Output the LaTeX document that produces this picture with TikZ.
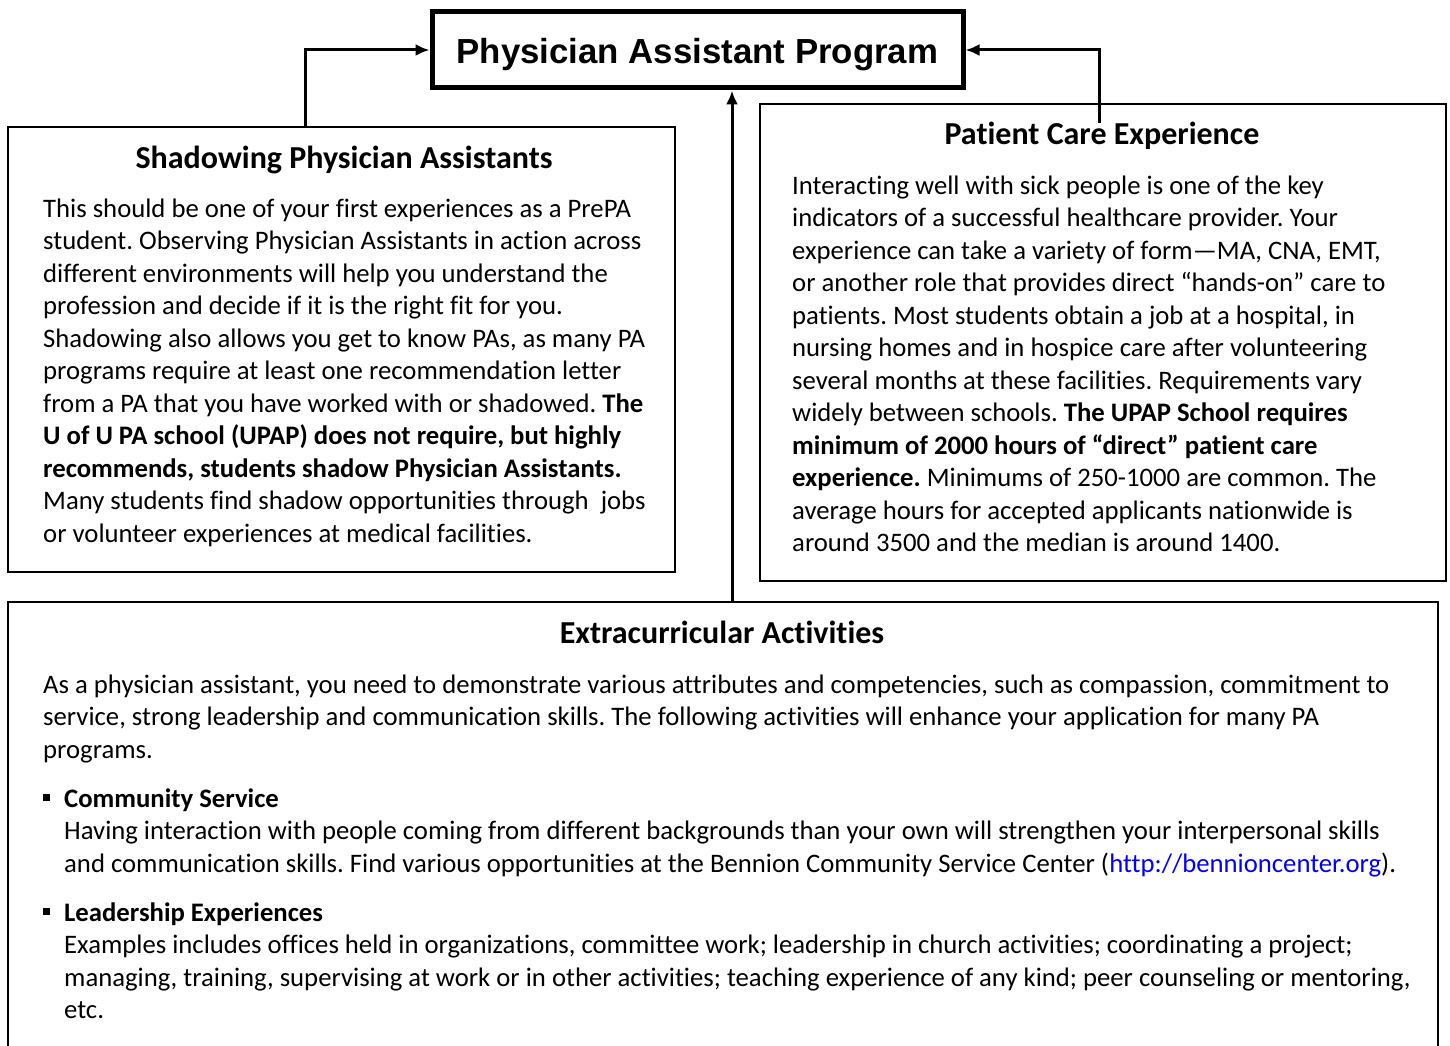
\documentclass[tikz,border=0pt]{standalone}
\usepackage{fontspec}
\setmainfont{Carlito}[Ligatures=NoCommon]
\newfontfamily\arialfont{Liberation Sans}
\usetikzlibrary{arrows.meta}
\definecolor{linkblue}{RGB}{0,0,255}
\newcommand{\mystrut}{\rule{0pt}{24pt}}
\newcommand{\sqbullet}{\llap{\rule[6pt]{7pt}{7pt}\hspace{14pt}}}
\frenchspacing
\begin{document}
\begin{tikzpicture}[x=1pt,y=-1pt,
  box/.style={draw,line width=2pt,anchor=north west,inner sep=0pt},
  boxtitle/.style={anchor=base,inner sep=0pt,font=\fontsize{32}{38}\selectfont\bfseries},
  body/.style={anchor=north west,inner sep=0pt,align=left,font=\fontsize{26.7}{32.5}\selectfont},
  arr/.style={line width=3pt,-{Latex[length=14pt,width=12pt]}}
]
\path[use as bounding box] (0,0) rectangle (1450,1046);
\clip (0,0) rectangle (1450,1046);

% main title box
\node[draw,line width=5pt,minimum width=531pt,minimum height=76pt,inner sep=0pt,
      text height=28pt,text depth=0pt,
      font=\arialfont\fontsize{34.8}{40}\selectfont\bfseries] (pa) at (697.5,50) {Physician Assistant Program};

% boxes
\node[box,minimum width=667pt,minimum height=445pt] (shbox) at (7,126) {};
\node[box,minimum width=686pt,minimum height=477pt] (pcbox) at (759,103) {};
\node[box,minimum width=1430pt,minimum height=520pt] (exbox) at (7,601) {};

% left box text
\node[boxtitle] (shtitle) at (344,168) {Shadowing Physician Assistants};
\node[body] (shtext) at (43,193) {\mystrut This should be one of your first experiences as a PrePA\\
student. Observing Physician Assistants in action across\\
different environments will help you understand the\\
profession and decide if it is the right fit for you.\\
Shadowing also allows you get to know PAs, as many PA\\
programs require at least one recommendation letter\\
from a PA that you have worked with or shadowed. \textbf{The}\\
\textbf{U of U PA school (UPAP) does not require, but highly}\\
\textbf{recommends, students shadow Physician Assistants.}\\
Many students find shadow opportunities through~ jobs\\
or volunteer experiences at medical facilities.};

% right box text
\node[boxtitle] (pctitle) at (1102,145) {Patient Care Experience};
\node[body] (pctext) at (792,170) {\mystrut Interacting well with sick people is one of the key\\
indicators of a successful healthcare provider. Your\\
experience can take a variety of form—MA, CNA, EMT,\\
or another role that provides direct “hands-on” care to\\
patients. Most students obtain a job at a hospital, in\\
nursing homes and in hospice care after volunteering\\
several months at these facilities. Requirements vary\\
widely between schools. \textbf{The UPAP School requires}\\
\textbf{minimum of 2000 hours of “direct” patient care}\\
\textbf{experience.} Minimums of 250-1000 are common. The\\
average hours for accepted applicants nationwide is\\
around 3500 and the median is around 1400.};

% bottom box text
\node[boxtitle] (extitle) at (722,643) {Extracurricular Activities};
\node[body] (exintro) at (43,669) {\mystrut As a physician assistant, you need to demonstrate various attributes and competencies, such as compassion, commitment to\\
service, strong leadership and communication skills. The following activities will enhance your application for many PA\\
programs.};
\node[body] (excs) at (64,783) {\mystrut\sqbullet\textbf{Community Service}\\
Having interaction with people coming from different backgrounds than your own will strengthen your interpersonal skills\\
and communication skills. Find various opportunities at the Bennion Community Service Center (\textcolor{linkblue}{http://bennioncenter.org}).};
\node[body] (exle) at (64,897) {\mystrut\sqbullet\textbf{Leadership Experiences}\\
Examples includes offices held in organizations, committee work; leadership in church activities; coordinating a project;\\
managing, training, supervising at work or in other activities; teaching experience of any kind; peer counseling or mentoring,\\
etc.};

% connectors
\coordinate (shstart) at (305,126);
\coordinate (pcstart) at (1099,123);
\draw[arr] (shstart) |- (pa.west);
\draw[arr] (pcstart) |- (pa.east);
\draw[arr] ([xshift=9pt]exbox.north) -- ([xshift=9pt]exbox.north |- pa.south);
\end{tikzpicture}
\end{document}
